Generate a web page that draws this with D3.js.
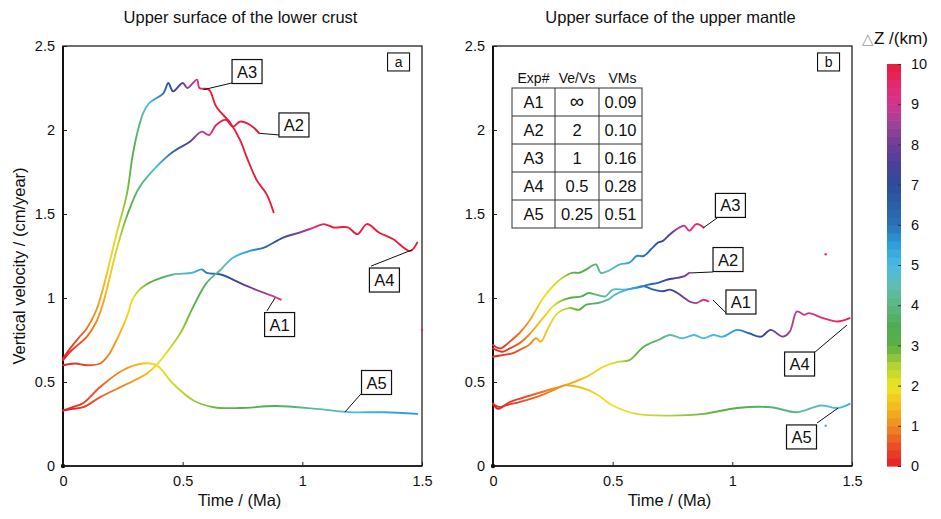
<!DOCTYPE html>
<html><head><meta charset="utf-8">
<script src="https://cdn.jsdelivr.net/npm/d3@7"></script>
<style>body{margin:0;background:#fff} text{font-family:"Liberation Sans",Arial,sans-serif;fill:#111}</style>
</head><body><svg id="c" width="941" height="519"></svg>
<script>
// ---------- data ----------
const xTicks = [0, 0.5, 1, 1.5];
const xTickLabels = ["0", "0.5", "1", "1.5"];
const yTicks = [0, 0.5, 1, 1.5, 2, 2.5];
const yTickLabels = ["0", "0.5", "1", "1.5", "2", "2.5"];
const cbTicks = [0,1,2,3,4,5,6,7,8,9,10];
const panelTitles = ["Upper surface of the lower crust", "Upper surface of the upper mantle"];
const panelLetters = ["a", "b"];
const seriesNames = ["A1", "A2", "A3", "A4", "A5"];
const tableHeader = ["Exp#", "Ve/Vs", "VMs"];
const tableVeVs = ["∞", "2", "1", "0.5", "0.25"];
const tableVMs = ["0.09", "0.10", "0.16", "0.28", "0.51"];

// each point: [time (Ma), vertical velocity (cm/yr), ΔZ (km)]
const a_A1 = [[0,0.6,0],[0.05,0.61,0.2],[0.1,0.6,0.4],[0.155,0.61,0.7],[0.19,0.66,0.9],[0.21,0.71,1.1],[0.25,0.83,1.5],[0.27,0.9,1.8],[0.29,0.99,2.1],[0.32,1.05,2.5],[0.36,1.09,3.0],[0.39,1.11,3.3],[0.46,1.14,4.2],[0.54,1.15,5.1],[0.58,1.17,5.6],[0.6,1.15,5.9],[0.66,1.14,6.6],[0.71,1.11,7.1],[0.77,1.07,7.8],[0.84,1.03,8.5],[0.88,1.01,8.9],[0.91,0.99,9.3]];
const a_A2 = [[0,0.63,0],[0.03,0.68,0.2],[0.07,0.73,0.5],[0.1,0.77,0.7],[0.14,0.86,1.0],[0.17,0.98,1.3],[0.2,1.15,1.7],[0.23,1.32,2.3],[0.27,1.5,3.0],[0.32,1.66,3.9],[0.39,1.78,5.0],[0.46,1.87,6.3],[0.53,1.93,7.6],[0.58,1.99,8.6],[0.61,1.97,9.1],[0.64,2.03,9.7],[0.68,2.06,10],[0.71,2.02,10],[0.74,2.05,10],[0.77,2.04,10],[0.8,2.01,10],[0.82,1.98,10]];
const a_A3 = [[0,0.64,0],[0.03,0.7,0.3],[0.07,0.77,0.6],[0.1,0.82,0.8],[0.14,0.93,1.1],[0.17,1.07,1.4],[0.196,1.22,1.8],[0.225,1.39,2.2],[0.267,1.62,2.8],[0.29,1.84,3.3],[0.31,1.98,3.8],[0.335,2.1,4.4],[0.36,2.16,5],[0.42,2.22,6],[0.44,2.28,6.6],[0.46,2.23,7.1],[0.5,2.28,7.8],[0.52,2.25,8.3],[0.56,2.3,9],[0.57,2.25,9.4],[0.61,2.24,10],[0.64,2.14,10],[0.7,2.04,10],[0.74,1.94,10],[0.77,1.83,10],[0.81,1.7,10],[0.85,1.62,10],[0.88,1.51,10]];
const a_A4 = [[0,0.33,0],[0.04,0.34,0.1],[0.085,0.35,0.3],[0.155,0.41,0.6],[0.27,0.49,1.1],[0.35,0.55,1.5],[0.39,0.6,1.8],[0.43,0.67,2.1],[0.49,0.79,2.6],[0.545,0.95,3.1],[0.6,1.09,3.7],[0.66,1.17,4.4],[0.71,1.24,5.0],[0.78,1.28,5.5],[0.84,1.3,6.3],[0.92,1.36,7.3],[0.99,1.39,8.3],[1.05,1.42,9.2],[1.09,1.44,9.8],[1.13,1.42,10],[1.19,1.42,10],[1.23,1.38,10],[1.27,1.44,10],[1.32,1.39,10],[1.38,1.35,10],[1.45,1.28,10],[1.48,1.33,10]];
const a_A5 = [[0,0.33,0],[0.04,0.35,0.15],[0.085,0.375,0.3],[0.155,0.47,0.6],[0.25,0.57,1.1],[0.335,0.61,1.6],[0.39,0.6,1.9],[0.46,0.49,2.3],[0.545,0.39,2.6],[0.63,0.35,2.9],[0.74,0.345,3.2],[0.89,0.357,3.6],[1.06,0.34,4.3],[1.2,0.32,4.9],[1.34,0.32,5.3],[1.48,0.31,5.6]];

const b_A1 = [[0,0.65,0],[0.04,0.66,0.2],[0.08,0.67,0.4],[0.11,0.69,0.6],[0.15,0.72,0.9],[0.18,0.76,1.2],[0.2,0.74,1.4],[0.23,0.82,1.7],[0.27,0.91,2.1],[0.32,0.94,2.7],[0.36,0.93,3.1],[0.39,0.96,3.4],[0.44,0.97,3.9],[0.48,0.99,4.3],[0.51,1.02,4.6],[0.54,1.04,4.9],[0.59,1.06,5.4],[0.63,1.07,5.9],[0.67,1.05,6.4],[0.71,1.04,6.9],[0.74,1.05,7.2],[0.77,1.03,7.6],[0.8,1.0,8.0],[0.82,0.98,8.3],[0.85,0.97,8.6],[0.88,0.99,8.9],[0.9,0.98,9.1]];
const b_A2 = [[0,0.7,0],[0.04,0.68,0.2],[0.07,0.7,0.4],[0.11,0.73,0.7],[0.15,0.78,1.0],[0.18,0.83,1.4],[0.22,0.9,1.8],[0.25,0.95,2.1],[0.28,0.98,2.6],[0.32,1.0,3.0],[0.37,1.01,3.4],[0.4,1.03,3.7],[0.43,1.02,3.9],[0.47,1.01,4.3],[0.5,1.05,4.6],[0.55,1.05,5.1],[0.6,1.06,5.6],[0.65,1.08,6.1],[0.69,1.09,6.6],[0.73,1.11,7.1],[0.77,1.12,7.7],[0.8,1.13,8.1],[0.82,1.15,8.4]];
const b_A3 = [[0,0.72,0],[0.03,0.7,0.2],[0.07,0.74,0.5],[0.11,0.79,0.8],[0.15,0.86,1.2],[0.18,0.93,1.6],[0.21,1.0,1.9],[0.25,1.07,2.1],[0.29,1.12,2.5],[0.33,1.15,3.0],[0.36,1.15,3.2],[0.39,1.17,3.4],[0.43,1.2,3.8],[0.45,1.15,4.2],[0.48,1.16,4.6],[0.53,1.2,5.1],[0.57,1.21,5.4],[0.6,1.25,5.7],[0.63,1.25,6.0],[0.66,1.29,6.3],[0.69,1.33,6.9],[0.71,1.34,7.3],[0.74,1.38,7.8],[0.78,1.42,8.7],[0.8,1.43,8.9],[0.82,1.4,9.1],[0.85,1.44,9.4],[0.88,1.42,9.7]];
const b_A4 = [[0,0.37,0],[0.03,0.35,0.1],[0.07,0.38,0.25],[0.11,0.4,0.4],[0.18,0.43,0.7],[0.25,0.46,1.0],[0.32,0.49,1.3],[0.39,0.53,1.6],[0.46,0.59,1.9],[0.52,0.62,2.3],[0.57,0.63,2.8],[0.63,0.71,3.2],[0.69,0.75,3.9],[0.74,0.78,4.4],[0.79,0.76,4.7],[0.84,0.78,4.8],[0.88,0.76,4.9],[0.92,0.78,5.0],[0.96,0.77,5.2],[1.02,0.81,5.6],[1.07,0.79,6.3],[1.12,0.77,7.0],[1.16,0.81,7.6],[1.21,0.77,8.2],[1.24,0.8,8.5],[1.27,0.92,8.8],[1.3,0.9,9.0],[1.32,0.91,9.1],[1.38,0.88,9.4],[1.44,0.86,9.6],[1.49,0.88,9.9]];
const b_A5 = [[0,0.37,0],[0.02,0.34,0.05],[0.05,0.36,0.2],[0.11,0.38,0.4],[0.18,0.41,0.7],[0.25,0.45,1.0],[0.3,0.48,1.2],[0.36,0.47,1.5],[0.43,0.43,1.8],[0.5,0.36,2.0],[0.6,0.31,2.2],[0.74,0.3,2.5],[0.88,0.31,2.9],[1.02,0.345,3.3],[1.16,0.35,3.8],[1.27,0.32,4.2],[1.37,0.36,4.6],[1.44,0.345,5.0],[1.49,0.37,5.3]];
const strayA = [[1.5,0.81,10]];
const strayB = [[1.39,1.26,9.5],[1.39,0.24,5.2]];

// colour map stops: [ΔZ, colour]
const cmapStops = [[0,"#e41e26"],[0.5,"#ec4d25"],[1,"#f18a21"],[1.5,"#f5bd1c"],[2,"#ede623"],[2.5,"#b5d334"],[3,"#5cb041"],[3.5,"#4dad55"],[4,"#5bb680"],[4.5,"#5fbdb0"],[5,"#4abce2"],[5.5,"#2fa0dc"],[6,"#2a72b8"],[7,"#2b4c9b"],[7.5,"#4a409a"],[8,"#6d3d97"],[8.5,"#9c4398"],[9,"#d4358d"],[9.5,"#e5286b"],[10,"#e81c3b"]];

// annotation layout (data coordinates of each panel)
const labelsA = [
  {name:"A1", c:[0.905,0.842], from:[0.886,1.0], to:[0.852,0.923]},
  {name:"A2", c:[0.965,2.03], from:[0.823,1.98], to:[0.907,1.97]},
  {name:"A3", c:[0.769,2.348], from:[0.587,2.24], to:[0.706,2.28]},
  {name:"A4", c:[1.343,1.107], from:[1.458,1.286], to:[1.287,1.19]},
  {name:"A5", c:[1.31,0.497], from:[1.178,0.321], to:[1.245,0.429]}];
const labelsB = [
  {name:"A1", c:[1.036,0.976], from:[0.919,0.988], to:[0.974,0.911]},
  {name:"A2", c:[0.982,1.229], from:[0.823,1.149], to:[0.919,1.155]},
  {name:"A3", c:[0.992,1.551], from:[0.878,1.417], to:[0.936,1.476]},
  {name:"A4", c:[1.281,0.607], from:[1.479,0.839], to:[1.346,0.679]},
  {name:"A5", c:[1.289,0.173], from:[1.442,0.345], to:[1.354,0.256]}];

// ---------- drawing ----------
const svg = d3.select("#c");
const defs = svg.append("defs");
const cmap = d3.scaleLinear().domain(cmapStops.map(d=>d[0])).range(cmapStops.map(d=>d[1])).interpolate(d3.interpolateRgb).clamp(true);

const plotTop = 46, plotBottom = 466;
const panels = [
  {x0:63, x1:422, series:[a_A1,a_A2,a_A3,a_A4,a_A5], labels:labelsA, stray:strayA},
  {x0:493, x1:852, series:[b_A1,b_A2,b_A3,b_A4,b_A5], labels:labelsB, stray:strayB}];

panels.forEach((p, pi) => {
  const x = d3.scaleLinear().domain([0,1.5]).range([p.x0, p.x1]);
  const y = d3.scaleLinear().domain([0,2.5]).range([plotBottom, plotTop]);
  const g = svg.append("g");

  g.append("text").attr("x", (p.x0+p.x1)/2 - 2).attr("y", 23).attr("text-anchor","middle")
    .attr("font-size", 16.5).text(panelTitles[pi]);

  g.append("rect").attr("x", p.x0).attr("y", plotTop).attr("width", p.x1-p.x0).attr("height", plotBottom-plotTop)
    .attr("fill","none").attr("stroke","#222").attr("stroke-width",1.3);
  g.append("line").attr("x1",p.x0).attr("x2",p.x0).attr("y1",plotTop).attr("y2",plotBottom).attr("stroke","#111").attr("stroke-width",2);
  g.append("line").attr("x1",p.x0).attr("x2",p.x1).attr("y1",plotBottom).attr("y2",plotBottom).attr("stroke","#111").attr("stroke-width",1.6);

  const xa = d3.axisBottom(x).tickValues(xTicks).tickFormat((d,i)=>xTickLabels[i]).tickSize(-4).tickPadding(10);
  const ya = d3.axisLeft(y).tickValues(yTicks).tickFormat((d,i)=>yTickLabels[i]).tickSize(-4).tickPadding(8);
  const gx = g.append("g").attr("transform",`translate(0,${plotBottom})`).call(xa);
  const gy = g.append("g").attr("transform",`translate(${p.x0},0)`).call(ya);
  [gx, gy].forEach(ax => {
    ax.select(".domain").remove();
    ax.selectAll(".tick line").attr("stroke","#222").attr("stroke-width",1);
    ax.selectAll(".tick text").attr("font-size",14.5).attr("fill","#111").attr("font-family","'Liberation Sans',Arial,sans-serif");
  });
  g.append("circle").attr("cx", x(0)).attr("cy", y(0)).attr("r", 2.2).attr("fill","#111");

  g.append("text").attr("x",(p.x0+p.x1)/2 - 3).attr("y",506).attr("text-anchor","middle").attr("font-size",16.5).text("Time / (Ma)");
  if (pi === 0) {
    g.append("text").attr("transform",`translate(25,${(plotTop+plotBottom)/2+10}) rotate(-90)`).attr("text-anchor","middle")
      .attr("font-size",16.5).text("Vertical velocity / (cm/year)");
  }

  const line = d3.line().x(d=>x(d[0])).y(d=>y(d[1])).curve(d3.curveCatmullRom.alpha(0.5));
  p.series.forEach((s, si) => {
    const id = `grad${pi}_${si}`;
    const gx1 = x(s[0][0]), gx2 = x(s[s.length-1][0]);
    const grad = defs.append("linearGradient").attr("id", id).attr("gradientUnits","userSpaceOnUse")
      .attr("x1", gx1).attr("x2", gx2).attr("y1", 0).attr("y2", 0);
    s.forEach(d => grad.append("stop").attr("offset", (x(d[0])-gx1)/(gx2-gx1)).attr("stop-color", cmap(d[2])));
    g.append("path").attr("d", line(s)).attr("fill","none").attr("stroke", `url(#${id})`)
      .attr("stroke-width", 1.9).attr("stroke-linejoin","round").attr("stroke-linecap","round");
  });
  g.selectAll(null).data(p.stray).enter().append("circle")
    .attr("cx", d=>x(d[0])).attr("cy", d=>y(d[1])).attr("r", 1.2).attr("fill", d=>cmap(d[2]));

  p.labels.forEach(l => {
    g.append("line").attr("x1",x(l.from[0])).attr("y1",y(l.from[1])).attr("x2",x(l.to[0])).attr("y2",y(l.to[1]))
      .attr("stroke","#111").attr("stroke-width",1);
    const cx = x(l.c[0]), cy = y(l.c[1]);
    g.append("rect").attr("x",cx-15).attr("y",cy-12).attr("width",30).attr("height",24)
      .attr("fill","#fff").attr("stroke","#111").attr("stroke-width",1.2);
    g.append("text").attr("x",cx).attr("y",cy+6).attr("text-anchor","middle").attr("font-size",16.5).text(l.name);
  });

  const lx = x(1.402), ly = y(2.405);
  g.append("rect").attr("x",lx-11).attr("y",ly-9).attr("width",22).attr("height",18)
    .attr("fill","#fff").attr("stroke","#111").attr("stroke-width",1.1);
  g.append("text").attr("x",lx).attr("y",ly+5).attr("text-anchor","middle").attr("font-size",14).text(panelLetters[pi]);

  if (pi === 1) {
    const colX = [512, 555, 599, 642];
    const rowY = d3.range(6).map(i => 88 + i*28);
    const tg = g.append("g");
    tableHeader.forEach((h,i)=>{
      tg.append("text").attr("x",(colX[i]+colX[i+1])/2 + (i===2?2:0)).attr("y",83).attr("text-anchor","middle").attr("font-size",14).text(h);
    });
    tg.append("rect").attr("x",colX[0]).attr("y",rowY[0]).attr("width",colX[3]-colX[0]).attr("height",rowY[5]-rowY[0])
      .attr("fill","#fff").attr("stroke","#333").attr("stroke-width",1);
    [1,2].forEach(i=>tg.append("line").attr("x1",colX[i]).attr("x2",colX[i]).attr("y1",rowY[0]).attr("y2",rowY[5]).attr("stroke","#333"));
    [1,2,3,4].forEach(i=>tg.append("line").attr("x1",colX[0]).attr("x2",colX[3]).attr("y1",rowY[i]).attr("y2",rowY[i]).attr("stroke","#333"));
    seriesNames.forEach((n,i)=>{
      const cy = rowY[i] + 20;
      tg.append("text").attr("x",(colX[0]+colX[1])/2).attr("y",cy).attr("text-anchor","middle").attr("font-size",16.5).text(n);
      tg.append("text").attr("x",(colX[1]+colX[2])/2).attr("y",cy).attr("text-anchor","middle").attr("font-size",i===0?20:16.5).text(tableVeVs[i]);
      tg.append("text").attr("x",(colX[2]+colX[3])/2).attr("y",cy).attr("text-anchor","middle").attr("font-size",16.5).text(tableVMs[i]);
    });
  }
});

// colour bar
const cbY = d3.scaleLinear().domain([0,10]).range([466, 64]);
const cbX0 = 887, cbW = 14, nSteps = 50;
const cb = svg.append("g");
d3.range(nSteps).forEach(i => {
  const v0 = i*10/nSteps, v1 = (i+1)*10/nSteps;
  cb.append("rect").attr("x",cbX0).attr("y",cbY(v1)).attr("width",cbW).attr("height",cbY(v0)-cbY(v1)+0.6)
    .attr("fill", cmap((v0+v1)/2));
});
const cbAxis = d3.axisRight(cbY).tickValues(cbTicks).tickSize(-3).tickPadding(10).tickFormat(d3.format("d"));
const gcb = cb.append("g").attr("transform",`translate(${cbX0+cbW},0)`).call(cbAxis);
gcb.select(".domain").remove();
gcb.selectAll(".tick line").attr("stroke","#333").attr("stroke-width",1);
gcb.selectAll(".tick text").attr("font-size",14.5).attr("fill","#111").attr("font-family","'Liberation Sans',Arial,sans-serif");
const cbt = cb.append("text").attr("x",862).attr("y",44).attr("font-size",17);
cbt.append("tspan").attr("fill","#999").attr("font-size",15).text("△");
cbt.append("tspan").text("Z /(km)");
</script></body></html>
